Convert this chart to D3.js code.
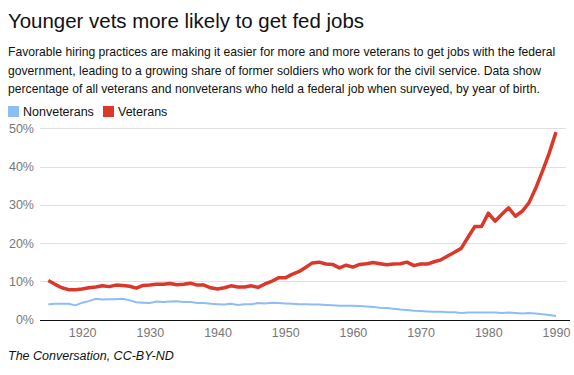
<!DOCTYPE html>
<html>
<head>
<meta charset="utf-8">
<script src="https://cdn.jsdelivr.net/npm/d3@7/dist/d3.min.js"></script>
<style>
  body { margin: 0; background: #fff; }
  text { font-family: "Liberation Sans", Arial, sans-serif; }
</style>
</head>
<body>
<div id="chart"></div>
<script>
// birth years 1915..1990
var years = d3.range(1915, 1991);

// share holding a federal job (%)
var veterans = [
  10.2, 9.2, 8.3, 7.8, 7.8, 8.0, 8.3, 8.5, 8.8, 8.6,
  9.0, 8.9, 8.7, 8.2, 8.9, 9.0, 9.2, 9.2, 9.4, 9.1,
  9.2, 9.5, 9.0, 9.0, 8.3, 8.0, 8.3, 8.8, 8.5, 8.5,
  8.8, 8.4, 9.3, 10.0, 10.9, 10.9, 11.8, 12.5, 13.6, 14.8,
  15.0, 14.5, 14.4, 13.5, 14.2, 13.7, 14.4, 14.6, 14.9, 14.6,
  14.3, 14.5, 14.6, 15.0, 14.1, 14.5, 14.5, 15.1, 15.6, 16.6,
  17.6, 18.6, 21.5, 24.3, 24.3, 27.8, 25.7, 27.5, 29.2, 27.0,
  28.3, 30.5, 34.3, 38.8, 43.5, 49.0
];
var nonveterans = [
  4.0, 4.1, 4.1, 4.1, 3.7, 4.4, 4.8, 5.4, 5.2, 5.3,
  5.3, 5.4, 5.0, 4.5, 4.4, 4.3, 4.7, 4.6, 4.7, 4.8,
  4.6, 4.6, 4.3, 4.3, 4.1, 4.0, 3.9, 4.1, 3.8, 4.0,
  4.0, 4.3, 4.2, 4.4, 4.3, 4.2, 4.1, 4.0, 4.0, 3.9,
  3.9, 3.8, 3.7, 3.6, 3.6, 3.6, 3.5, 3.4, 3.3, 3.1,
  3.0, 2.8, 2.6, 2.5, 2.3, 2.2, 2.1, 2.0, 2.0, 1.9,
  1.9, 1.7, 1.8, 1.8, 1.8, 1.8, 1.8, 1.7, 1.8, 1.7,
  1.6, 1.7, 1.6, 1.4, 1.2, 0.9
];

var yTicks = [0, 10, 20, 30, 40, 50];
var xTicks = [1920, 1930, 1940, 1950, 1960, 1970, 1980, 1990];

var seriesNames = ["Nonveterans", "Veterans"];
var seriesColors = ["#8cbdf5", "#d9382b"];

var title = "Younger vets more likely to get fed jobs";
var blurb = [
  "Favorable hiring practices are making it easier for more and more veterans to get jobs with the federal",
  "government, leading to a growing share of former soldiers who work for the civil service. Data show",
  "percentage of all veterans and nonveterans who held a federal job when surveyed, by year of birth."
];
var source = "The Conversation, CC-BY-ND";

var totalWidth = 574, totalHeight = 375;

var svg = d3.select('#chart').append('svg')
  .attr('width', totalWidth)
  .attr('height', totalHeight);

// fit a text line to a target width by nudging font size
function fitWidth(sel, target) {
  var w = sel.node().getComputedTextLength();
  var fs = parseFloat(sel.attr('font-size'));
  sel.attr('font-size', (fs * target / w).toFixed(2));
}

var t = svg.append('text')
  .attr('x', 8).attr('y', 28)
  .attr('font-size', 21)
  .attr('font-family', 'Roboto, "Liberation Sans", sans-serif')
  .attr('font-weight', 300)
  .attr('fill', '#111')
  .text(title);
fitWidth(t, 356);

var lines = svg.append('g').selectAll('text')
  .data(blurb).enter().append('text')
  .attr('x', 8)
  .attr('y', (d, i) => 56 + i * 18.5)
  .attr('font-size', 13)
  .attr('fill', '#111')
  .text(d => d);
fitWidth(d3.select(lines.nodes()[0]), 548);
lines.attr('font-size', d3.select(lines.nodes()[0]).attr('font-size'));

// legend
var legend = svg.append('g').attr('transform', 'translate(8,106)');
var lx = [0, 95];
seriesNames.forEach(function(name, i) {
  legend.append('rect')
    .attr('x', lx[i]).attr('y', 0)
    .attr('width', 11).attr('height', 11)
    .attr('fill', seriesColors[i]);
  legend.append('text')
    .attr('x', lx[i] + 15).attr('y', 10)
    .attr('font-size', 12.5)
    .attr('fill', '#111')
    .text(name);
});

// plot area
var margin = { top: 128, right: 8, bottom: 55, left: 40 };

var xScale = d3.scaleLinear()
  .domain([1915, 1990])
  .range([48.3, 556]);

var yScale = d3.scaleLinear()
  .domain([0, 50])
  .range([319.5, 128.3]);

// grid
svg.append('g').selectAll('line')
  .data(yTicks.filter(d => d > 0)).enter().append('line')
  .attr('x1', 40).attr('x2', 566)
  .attr('y1', d => Math.round(yScale(d)) + 0.5)
  .attr('y2', d => Math.round(yScale(d)) + 0.5)
  .attr('stroke', '#e0e0e0');

var yAxis = d3.axisLeft(yScale)
  .tickValues(yTicks)
  .tickSize(0)
  .tickPadding(6)
  .tickFormat(d => d + '%');

var yAxisGroup = svg.append('g')
  .attr('transform', 'translate(40,0)')
  .call(yAxis);
yAxisGroup.select('.domain').remove();
yAxisGroup.selectAll('text')
  .attr('fill', '#777')
  .attr('font-size', 12.5)
  .attr('font-family', '"Liberation Sans", Arial, sans-serif');

var xAxis = d3.axisBottom(xScale)
  .tickValues(xTicks)
  .tickSize(0)
  .tickPadding(8)
  .tickFormat(d3.format('d'));

var xAxisGroup = svg.append('g')
  .attr('transform', 'translate(0,320)')
  .call(xAxis);
xAxisGroup.select('.domain').remove();
xAxisGroup.selectAll('text')
  .attr('fill', '#777')
  .attr('font-size', 12.5)
  .attr('font-family', '"Liberation Sans", Arial, sans-serif');

var line = d3.line()
  .x((d, i) => xScale(years[i]))
  .y(d => yScale(d));

svg.append('path')
  .datum(nonveterans)
  .attr('d', line)
  .attr('fill', 'none')
  .attr('stroke', seriesColors[0])
  .attr('stroke-width', 2)
  .attr('stroke-linejoin', 'round');

svg.append('path')
  .datum(veterans)
  .attr('d', line)
  .attr('fill', 'none')
  .attr('stroke', seriesColors[1])
  .attr('stroke-width', 3.5)
  .attr('stroke-linejoin', 'round');

// baseline
svg.append('line')
  .attr('x1', 40).attr('x2', 570)
  .attr('y1', 320.5).attr('y2', 320.5)
  .attr('stroke', '#111')
  .attr('stroke-width', 1.2);

svg.append('text')
  .attr('x', 8).attr('y', 360)
  .attr('font-size', 12.5)
  .attr('font-style', 'italic')
  .attr('fill', '#111')
  .text(source);
</script>
</body>
</html>
